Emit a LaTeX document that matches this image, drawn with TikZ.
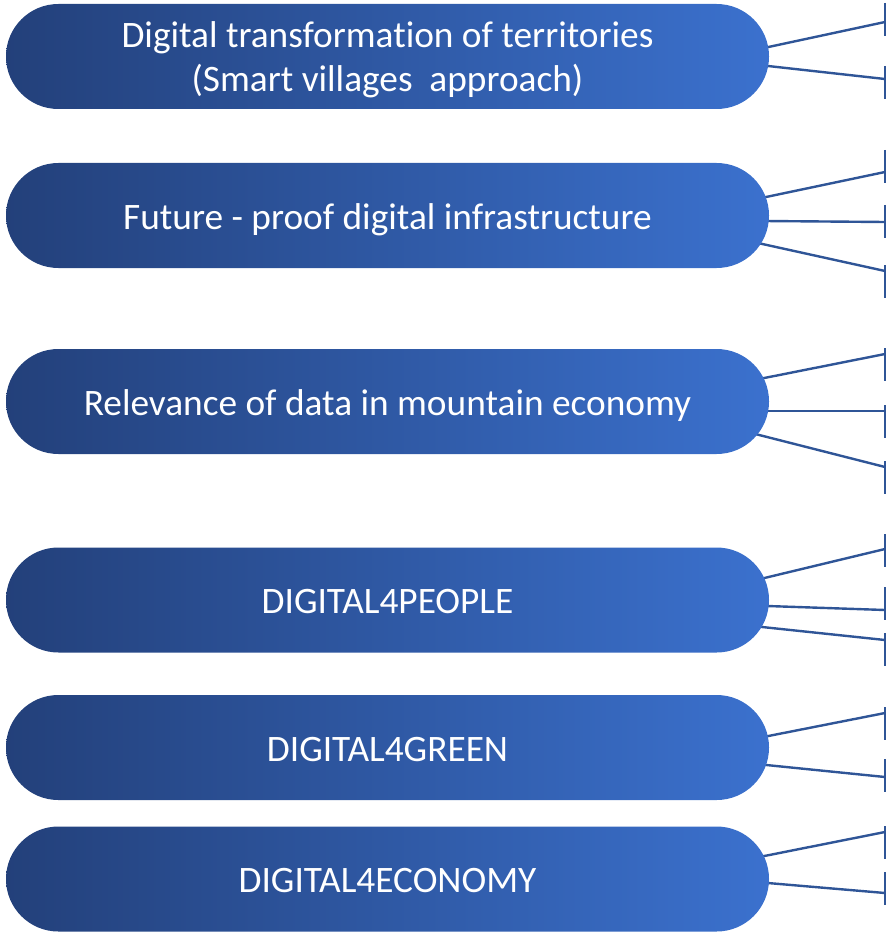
\documentclass[tikz,border=0pt]{standalone}
\usepackage{fontspec}
\setmainfont{Carlito}[Ligatures=NoCommon]
\usetikzlibrary{backgrounds}

\definecolor{pilldark}{RGB}{35,64,122}
\definecolor{pilllight}{RGB}{59,113,206}
\definecolor{linkblue}{RGB}{47,85,151}

\begin{document}
\begin{tikzpicture}[x=0.75pt, y=-0.75pt,
  pill/.style={rectangle, rounded corners=39.3pt, minimum width=572.25pt,
    minimum height=78.75pt, inner sep=0pt, left color=pilldark,
    right color=pilllight, text=white, align=center,
    font=\fontsize{28}{33}\selectfont},
  oneline/.style={text height=25.8pt, text depth=5pt},
  link/.style={draw=linkblue, line width=1.8pt}]

\useasboundingbox (0,0) rectangle (887,934);

% the six topic boxes
\node [pill, text depth=0pt] (b1) at (387.5,56.5)  {Digital transformation of territories\\(Smart villages\ \ approach)};
\node [pill, oneline] (b2) at (387.5,215.5) {Future - proof digital infrastructure};
\node [pill, oneline] (b3) at (387.5,401.5) {Relevance of data in mountain economy};
\node [pill, oneline] (b4) at (387.5,600)   {DIGITAL4PEOPLE};
\node [pill, oneline] (b5) at (387.5,747.5) {DIGITAL4GREEN};
\node [pill, oneline] (b6) at (387.5,879)   {DIGITAL4ECONOMY};

% brackets on the right edge
\foreach \ty in {3,66,150,205,265,348,405,461,534,587,633,707,759,826,872}
  \draw [link] (885,\ty) -- ++(0,33);

% connectors, behind the boxes
\begin{pgfonlayer}{background}
\foreach \b/\dx/\dy/\ey [count=\n] in {1/-5/-8.6/22, 1/-5/9.1/79,
    2/-7/-17.7/172, 2/-5/5.5/222, 2/-11/27.6/271,
    3/-9/-22.7/354, 3/-5/9.5/411, 3/-14/32.5/467,
    4/-9/-21/549, 4/-5/5.9/610, 4/-11/26.6/640,
    5/-5/-10.7/713, 5/-7/17.1/777,
    6/-9/-22.2/832, 6/-5/3.7/893} {
  \coordinate (e\n) at (885,\ey);
  \draw [link] ([shift={(\dx,\dy)}]b\b.east) -- (e\n);
}
\end{pgfonlayer}

\end{tikzpicture}
\end{document}
